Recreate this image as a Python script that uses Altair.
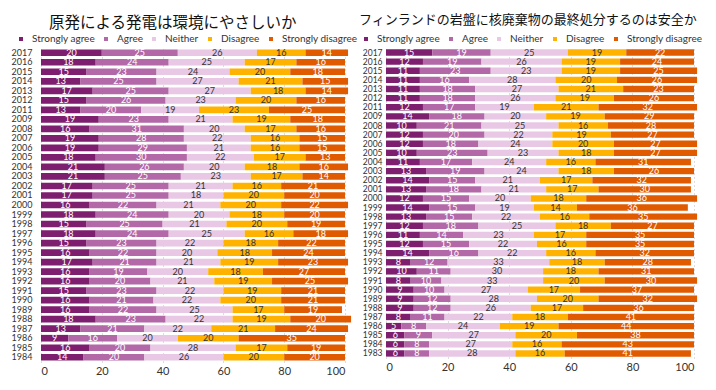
import altair as alt
import pandas as pd

categories = ["Strongly agree", "Agree", "Neither", "Disagree", "Strongly disagree"]
colors = ["#7E1E6E", "#B368A8", "#E8C8E4", "#FFB300", "#E05A00"]

left_title = "原発による発電は環境にやさしいか"
left_years = ["2017", "2016", "2015", "2014", "2013", "2012", "2011", "2009", "2008", "2007",
              "2006", "2005", "2004", "2003", "2002", "2001", "2000", "1999", "1998", "1997",
              "1996", "1995", "1994", "1993", "1992", "1991", "1990", "1989", "1988", "1987",
              "1986", "1985", "1984"]
left_sa = [20, 18, 15, 13, 17, 15, 13, 19, 16, 19, 19, 18, 21, 21, 17, 17, 16, 18, 15, 18,
           15, 16, 17, 16, 16, 15, 16, 16, 18, 13, 9, 16, 14]
left_a = [25, 24, 23, 25, 25, 26, 20, 23, 31, 28, 29, 30, 26, 25, 25, 25, 22, 24, 25, 24,
          23, 22, 21, 19, 20, 23, 21, 22, 23, 21, 16, 20, 20]
left_n = [26, 25, 24, 27, 27, 23, 19, 21, 20, 22, 21, 22, 20, 23, 21, 18, 21, 20, 21, 25,
          22, 20, 21, 20, 21, 22, 22, 25, 22, 22, 20, 28, 26]
left_d = [16, 17, 20, 21, 18, 20, 23, 19, 17, 16, 16, 17, 18, 17, 16, 20, 20, 18, 20, 16,
          18, 18, 19, 18, 19, 19, 20, 17, 19, 21, 20, 17, 20]
left_sd = [14, 16, 18, 15, 14, 16, 25, 18, 16, 15, 15, 13, 16, 14, 21, 20, 22, 20, 19, 18,
           22, 24, 23, 27, 25, 21, 21, 19, 20, 24, 35, 19, 20]

right_title = "フィンランドの岩盤に核廃棄物の最終処分するのは安全か"
right_years = ["2017", "2016", "2015", "2014", "2013", "2012", "2011", "2009", "2008", "2007",
               "2006", "2005", "2004", "2003", "2002", "2001", "2000", "1999", "1998", "1997",
               "1996", "1995", "1994", "1993", "1992", "1991", "1990", "1989", "1988", "1987",
               "1986", "1985", "1984", "1983"]
right_sa = [15, 12, 11, 11, 11, 11, 12, 14, 10, 12, 12, 10, 11, 13, 14, 13, 12, 14, 13, 12,
            11, 12, 14, 8, 10, 8, 9, 9, 9, 8, 5, 6, 6, 6]
right_a = [19, 19, 23, 16, 18, 18, 17, 18, 21, 20, 18, 23, 17, 19, 15, 18, 15, 15, 15, 18,
           14, 15, 16, 12, 11, 10, 10, 12, 12, 11, 8, 9, 8, 8]
right_n = [25, 26, 23, 28, 27, 26, 19, 20, 25, 22, 24, 23, 24, 24, 21, 21, 20, 19, 22, 25,
           23, 22, 22, 33, 30, 33, 27, 28, 26, 22, 24, 27, 27, 28]
right_d = [19, 19, 19, 20, 21, 19, 21, 19, 16, 19, 20, 18, 16, 18, 17, 17, 18, 14, 16, 18,
           17, 16, 16, 18, 18, 20, 17, 20, 17, 18, 19, 20, 16, 16]
right_sd = [22, 24, 25, 26, 23, 26, 32, 29, 28, 27, 27, 27, 31, 26, 32, 30, 36, 36, 35, 27,
            35, 35, 32, 28, 31, 30, 37, 32, 36, 41, 44, 38, 43, 41]


def long_frame(years, series):
    rows = []
    for i, y in enumerate(years):
        for k, cat in enumerate(categories):
            rows.append({"year": y, "cat": cat, "order": k, "value": series[k][i]})
    return pd.DataFrame(rows)


FONT = "Lato"
CJK = "Noto Sans CJK JP"


def panel(df, years, title, width, height, title_size, title_dx, title_offset,
          label_pad, legend_x, legend_y, year_font):
    base = alt.Chart(df).transform_stack(
        stack="value", groupby=["year"], as_=["x0", "x1"],
        sort=[alt.SortField("order", order="ascending")]
    ).transform_calculate(mid="(datum.x0 + datum.x1) / 2")

    y_enc = alt.Y(
        "year:N", sort=years,
        scale=alt.Scale(paddingInner=0.3, paddingOuter=0.15),
        axis=alt.Axis(title=None, labelFont=FONT, labelFontSize=year_font,
                      labelColor="#333333", labelPadding=label_pad, ticks=False,
                      domain=False),
    )
    x_axis = alt.Axis(title=None, values=[0, 20, 40, 60, 80, 100], grid=True,
                      gridDash=[1, 3], gridColor="#BBBBBB", domain=False, ticks=False,
                      labelFont=FONT, labelFontSize=11, labelColor="#333333",
                      labelPadding=3)

    bars = base.mark_bar().encode(
        x=alt.X("x0:Q", scale=alt.Scale(domain=[0, 100], nice=False), axis=x_axis),
        x2="x1:Q",
        y=y_enc,
        color=alt.Color(
            "cat:N",
            scale=alt.Scale(domain=categories, range=colors),
            legend=alt.Legend(title=None, orient="none", direction="horizontal",
                              legendX=legend_x, legendY=legend_y,
                              symbolType="square", symbolSize=16, symbolStrokeWidth=0,
                              labelFont=FONT, labelFontSize=10, labelColor="#333333",
                              labelOffset=6, columnPadding=6, padding=0),
        ),
    )
    text = base.mark_text(font=FONT, fontSize=9, baseline="middle", align="center").encode(
        x=alt.X("mid:Q"),
        y=y_enc,
        text=alt.Text("value:Q"),
        color=alt.condition("datum.order == 2 || datum.order == 3",
                            alt.value("#333333"), alt.value("#FFFFFF")),
    )
    return alt.layer(bars, text).properties(
        width=width, height=height,
        title=alt.TitleParams(title, anchor="start", frame="group", dx=title_dx,
                              font=CJK, fontSize=title_size, fontWeight="normal",
                              color="#111111", offset=title_offset),
    )


left = panel(long_frame(left_years, [left_sa, left_a, left_n, left_d, left_sd]),
             left_years, left_title, 304, 314, 15.5, 8, 3, 9, -25, -14, 9)
right = panel(long_frame(right_years, [right_sa, right_a, right_n, right_d, right_sd]),
              right_years, right_title, 308, 310, 13, -27, 7, 4, -25, -14, 8.5)

chart = alt.hconcat(left, right, spacing=1).resolve_scale(color="independent").configure_view(
    stroke=None
).properties(padding={"left": 3, "top": 6, "right": 0, "bottom": 0})

chart.save("out.html", embed_options={"renderer": "svg", "actions": False})
